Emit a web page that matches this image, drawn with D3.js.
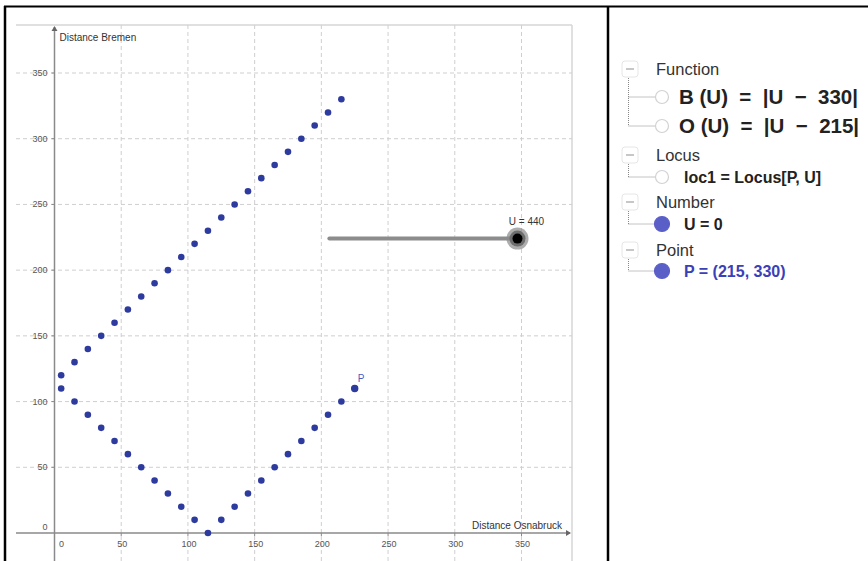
<!DOCTYPE html>
<html>
<head>
<meta charset="utf-8">
<script src="https://cdn.jsdelivr.net/npm/d3@7"></script>
<style>
  html, body { margin: 0; padding: 0; background: #fff; }
  svg { display: block; font-family: "Liberation Sans", Arial, sans-serif; }
</style>
</head>
<body>
<svg id="chart" width="868" height="561"></svg>
<script>
// ---- data ----
// locus points P = (O(U), B(U)) for U = 0,10,...,440
const locusX = [215,205,195,185,175,165,155,145,135,125,115,105,95,85,75,65,55,45,35,25,15,5,5,15,25,35,45,55,65,75,85,95,105,115,125,135,145,155,165,175,185,195,205,215,225];
const locusY = [330,320,310,300,290,280,270,260,250,240,230,220,210,200,190,180,170,160,150,140,130,120,110,100,90,80,70,60,50,40,30,20,10,0,10,20,30,40,50,60,70,80,90,100,110];
const pointP = [225, 110];
const xTicks = [0, 50, 100, 150, 200, 250, 300, 350];
const yTicks = [0, 50, 100, 150, 200, 250, 300, 350];
const xAxisTitle = "Distance Osnabruck";
const yAxisTitle = "Distance Bremen";
const sliderValue = 440;
const sliderFrom = [206, 224];   // slider in graph units
const sliderTo = [347, 224];
const treeGroups = ["Function", "Locus", "Number", "Point"];
const treeItems = [
  { group: 0, text: "B(U) = |U − 330|", kind: "formula", filled: false },
  { group: 0, text: "O(U) = |U − 215|", kind: "formula", filled: false },
  { group: 1, text: "loc1 = Locus[P, U]", kind: "plain", filled: false },
  { group: 2, text: "U = 0", kind: "plain", filled: true },
  { group: 3, text: "P = (215, 330)", kind: "point", filled: true }
];

const svg = d3.select("#chart");

// ---- scales ----
const x = d3.scaleLinear().domain([0, 350]).range([54.5, 521.5]);
const y = d3.scaleLinear().domain([0, 350]).range([533, 73]);
const plotL = 16, plotR = 572, plotT = 25, plotB = 561;

// plot frame
svg.append("line").attr("x1", plotL).attr("x2", plotR).attr("y1", plotT).attr("y2", plotT)
  .attr("stroke", "#d6d6d6").attr("stroke-width", 1.5);
svg.append("line").attr("x1", plotR).attr("x2", plotR).attr("y1", plotT).attr("y2", plotB)
  .attr("stroke", "#d6d6d6").attr("stroke-width", 1.5);

// grid
const grid = svg.append("g").attr("stroke", "#cfcfcf").attr("stroke-width", 1).attr("stroke-dasharray", "4,3");
xTicks.filter(d => d !== 0).forEach(d => {
  grid.append("line").attr("x1", x(d)).attr("x2", x(d)).attr("y1", plotT).attr("y2", plotB);
});
yTicks.filter(d => d !== 0).forEach(d => {
  grid.append("line").attr("x1", plotL).attr("x2", plotR).attr("y1", y(d)).attr("y2", y(d));
});

// axes
const axisColor = "#8a8a8a";
svg.append("line").attr("x1", plotL).attr("x2", plotR - 2).attr("y1", y(0)).attr("y2", y(0))
  .attr("stroke", axisColor).attr("stroke-width", 1.5);
svg.append("line").attr("x1", x(0)).attr("x2", x(0)).attr("y1", plotT + 2).attr("y2", plotB)
  .attr("stroke", axisColor).attr("stroke-width", 1.5);
// arrows
svg.append("path").attr("d", `M${plotR - 1},${y(0)} l-5,-3 l0,6 z`).attr("fill", "#666");
svg.append("path").attr("d", `M${x(0)},${plotT + 1} l-3,5 l6,0 z`).attr("fill", "#666");

// tick marks
xTicks.filter(d => d !== 0).forEach(d => {
  svg.append("line").attr("x1", x(d)).attr("x2", x(d)).attr("y1", y(0)).attr("y2", y(0) + 3)
    .attr("stroke", axisColor).attr("stroke-width", 1);
});
yTicks.filter(d => d !== 0).forEach(d => {
  svg.append("line").attr("x1", x(0) - 3).attr("x2", x(0)).attr("y1", y(d)).attr("y2", y(d))
    .attr("stroke", axisColor).attr("stroke-width", 1);
});

// tick labels
const tickStyle = s => s.attr("font-size", 9).attr("fill", "#555");
xTicks.forEach(d => {
  svg.append("text").attr("x", d === 0 ? x(d) + 7 : x(d) + 1).attr("y", y(0) + 14)
    .attr("text-anchor", "middle").text(d).call(tickStyle);
});
yTicks.forEach(d => {
  svg.append("text").attr("x", x(0) - 7).attr("y", d === 0 ? y(0) - 3 : y(d) + 3)
    .attr("text-anchor", "end").text(d).call(tickStyle);
});

// axis titles
svg.append("text").attr("x", x(0) + 5).attr("y", plotT + 16).attr("font-size", 10).attr("fill", "#333").text(yAxisTitle);
svg.append("text").attr("x", plotR - 10).attr("y", y(0) - 4).attr("text-anchor", "end")
  .attr("font-size", 10).attr("fill", "#333").text(xAxisTitle);

// slider
svg.append("line").attr("x1", x(sliderFrom[0])).attr("x2", x(sliderTo[0]))
  .attr("y1", y(sliderFrom[1])).attr("y2", y(sliderTo[1]))
  .attr("stroke", "#8c8c8c").attr("stroke-width", 4).attr("stroke-linecap", "round");
svg.append("circle").attr("cx", x(sliderTo[0])).attr("cy", y(sliderTo[1])).attr("r", 11)
  .attr("fill", "#8a8a8a").attr("fill-opacity", 0.7);
svg.append("circle").attr("cx", x(sliderTo[0])).attr("cy", y(sliderTo[1])).attr("r", 8)
  .attr("fill", "#6d6d6d");
svg.append("circle").attr("cx", x(sliderTo[0])).attr("cy", y(sliderTo[1])).attr("r", 5)
  .attr("fill", "#000");
svg.append("text").attr("x", x(sliderTo[0]) + 9).attr("y", y(sliderTo[1]) - 14)
  .attr("text-anchor", "middle").attr("font-size", 10).attr("fill", "#333").text("U = " + sliderValue);

// locus points
const pts = locusX.map((v, i) => [v, locusY[i]]);
svg.append("g").selectAll("circle").data(pts).join("circle")
  .attr("cx", d => x(d[0])).attr("cy", d => y(d[1])).attr("r", 3.3)
  .attr("fill", "#2e3b9e");
svg.append("circle").attr("cx", x(pointP[0])).attr("cy", y(pointP[1])).attr("r", 3.7).attr("fill", "#2e3b9e");
svg.append("text").attr("x", x(pointP[0]) + 3).attr("y", y(pointP[1]) - 6)
  .attr("font-size", 10).attr("fill", "#4d5bc4").text("P");

// ---- frame ----
svg.append("line").attr("x1", 4).attr("x2", 868).attr("y1", 6.5).attr("y2", 6.5).attr("stroke", "#000").attr("stroke-width", 2);
svg.append("line").attr("x1", 5).attr("x2", 5).attr("y1", 6).attr("y2", 561).attr("stroke", "#000").attr("stroke-width", 2.5);
svg.append("line").attr("x1", 608).attr("x2", 608).attr("y1", 6).attr("y2", 561).attr("stroke", "#000").attr("stroke-width", 2.5);

// ---- algebra tree ----
const tree = svg.append("g");
const groupY = [69, 155, 202, 250];
const itemY = [97, 126, 177, 224, 271];
const boxX = 622, lineX = 628.5, circX = 662, textX = 656, itemX = 683;
groupY.forEach((gy, gi) => {
  tree.append("rect").attr("x", boxX).attr("y", gy - 8).attr("width", 16).attr("height", 16).attr("rx", 3)
    .attr("fill", "#fff").attr("stroke", "#e6e6e6");
  tree.append("line").attr("x1", boxX + 4).attr("x2", boxX + 12).attr("y1", gy).attr("y2", gy)
    .attr("stroke", "#b5b5b5").attr("stroke-width", 1.5);
  tree.append("text").attr("x", textX).attr("y", gy + 6).attr("font-size", 16.5).attr("fill", "#333")
    .text(treeGroups[gi]);
  const items = treeItems.map((it, i) => ({ ...it, yy: itemY[i] })).filter(it => it.group === gi);
  const lastY = items[items.length - 1].yy;
  tree.append("line").attr("x1", lineX).attr("x2", lineX).attr("y1", gy + 9).attr("y2", lastY)
    .attr("stroke", "#888").attr("stroke-width", 1).attr("stroke-dasharray", "1,1");
  items.forEach(it => {
    tree.append("line").attr("x1", lineX).attr("x2", circX - 7).attr("y1", it.yy).attr("y2", it.yy)
      .attr("stroke", "#888").attr("stroke-width", 1).attr("stroke-dasharray", "1,1");
    tree.append("circle").attr("cx", circX).attr("cy", it.yy).attr("r", it.filled ? 7.5 : 6.5)
      .attr("fill", it.filled ? "#5a5fc8" : "#fff").attr("stroke", it.filled ? "#5a5fc8" : "#d2d2d2")
      .attr("stroke-width", 1.2);
    const t = tree.append("text").attr("x", itemX + (it.kind === "formula" ? -4 : 1))
      .attr("font-weight", "bold").attr("fill", it.kind === "point" ? "#3a40b8" : "#222").text(it.text);
    if (it.kind === "formula") {
      t.attr("y", it.yy + 7).attr("font-size", 20.5).attr("xml:space", "preserve")
        .text(it.text.replace("(", " (").replace(" = ", "  =  ").replace("−", " − "));
    } else {
      t.attr("y", it.yy + 6).attr("font-size", 16);
    }
  });
});
</script>
</body>
</html>
